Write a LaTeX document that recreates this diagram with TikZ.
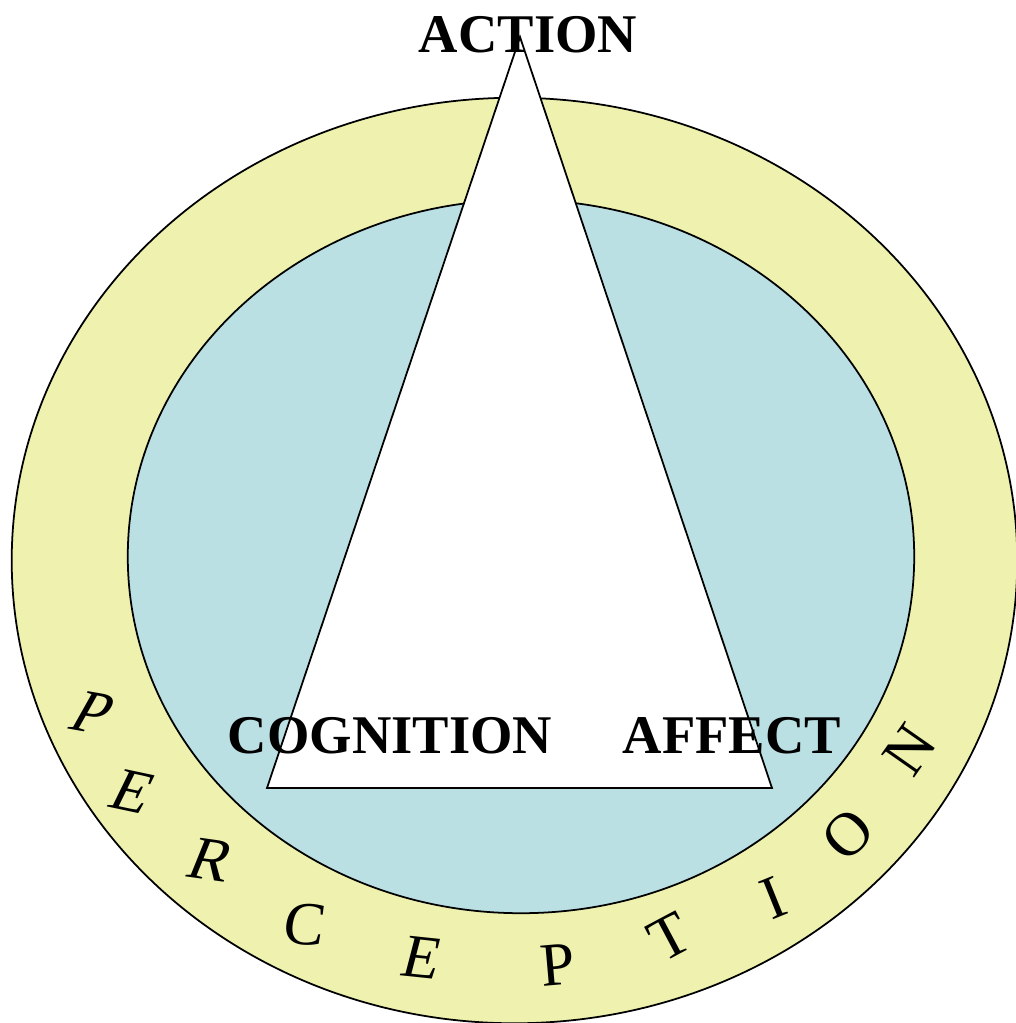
\documentclass[tikz,border=0pt]{standalone}
\usepackage{fontspec}
\setmainfont{Liberation Serif}
\usetikzlibrary{positioning}
\definecolor{ringyellow}{RGB}{238,242,174}
\definecolor{coreblue}{RGB}{186,224,228}

\begin{document}
\begin{tikzpicture}[
    x = 0.01cm, y = -0.01cm,
    shell/.style = {draw=black, line width=0.5pt},
    corner/.style = {font=\fontsize{15.5}{18}\selectfont\bfseries, inner sep=0pt, anchor=base},
    letter/.style = {font=\fontsize{17.5}{20}\selectfont, inner sep=0pt}
]
  \useasboundingbox (0,0) rectangle (1016,1023);
  % perception ring and inner field
  \fill[shell, fill=ringyellow] (514.5,560.5) ellipse [x radius=5.025cm, y radius=4.625cm];
  \fill[shell, fill=coreblue] (521,556.5) ellipse [x radius=3.93cm, y radius=3.565cm];

  % triangle
  \coordinate (apex)  at (520,37);
  \coordinate (left)  at (267,788);
  \coordinate (right) at (772,788);
  \filldraw[shell, fill=white] (apex) -- (left) -- (right) -- cycle;

  \node[corner] (action)    at (528,52)  {ACTION};
  \node[corner] (cognition) at (390,753) {COGNITION};
  \node[corner] (affect)    at (732,753) {AFFECT};

  % letters along the ring
  \node[letter, rotate=-10, xslant=0.35] (l1)  at (93,713)  {P};
  \node[letter, rotate=-12, xslant=0.25] (l2)  at (133,792) {E};
  \node[letter, rotate=-8,  xslant=0.25] (l3)  at (212,860) {R};
  \node[letter, rotate=-3,  xslant=0.1]  (l4)  at (305,925) {C};
  \node[letter, rotate=-6,  xslant=0.15] (l5)  at (422,958) {E};
  \node[letter, rotate=5]                (l6)  at (558,965) {P};
  \node[letter, rotate=28]               (l7)  at (670,937) {T};
  \node[letter, rotate=22]               (l8)  at (773,898) {I};
  \node[letter, rotate=45]               (l9)  at (848,835) {O};
  \node[letter, rotate=55]               (l10) at (910,750) {N};
\end{tikzpicture}
\end{document}
